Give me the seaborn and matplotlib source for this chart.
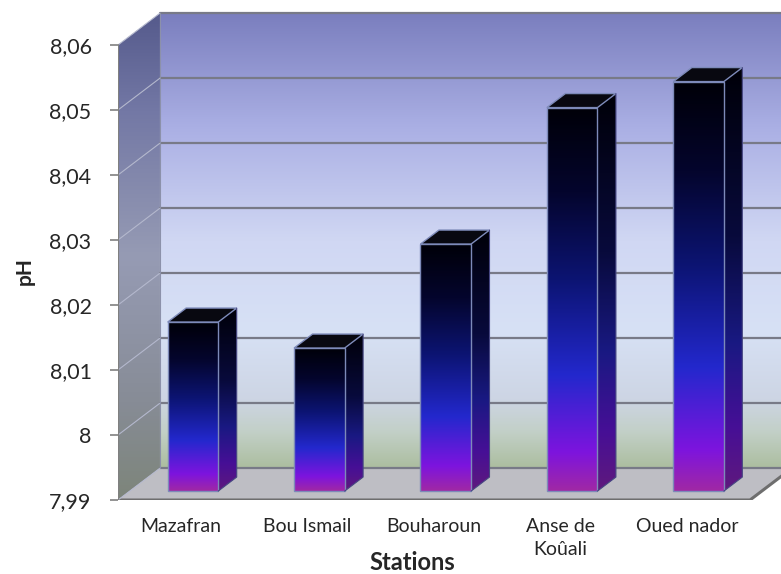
import numpy as np
import pandas as pd
import matplotlib
matplotlib.use("Agg")
import matplotlib.pyplot as plt
from matplotlib.patches import Polygon
from matplotlib.colors import LinearSegmentedColormap
import seaborn as sns

# Data
stations = ["Mazafran", "Bou Ismail", "Bouharoun", "Anse de\nKoûali", "Oued nador"]
ph_values = [8.016, 8.012, 8.028, 8.049, 8.053]
y_ticks = [7.99, 8.00, 8.01, 8.02, 8.03, 8.04, 8.05, 8.06]
y_tick_labels = ["7,99", "8", "8,01", "8,02", "8,03", "8,04", "8,05", "8,06"]

sns.set_theme(style="white")
plt.rcParams["font.family"] = ["Lato", "DejaVu Sans"]

W, H = 781, 574
fig = plt.figure(figsize=(W / 100, H / 100), dpi=100)
ax = fig.add_axes([118 / W, 74 / H, (W - 118) / W, 495 / H])

Y0, Y1 = y_ticks[0], y_ticks[-1]
X0, X1 = -0.5, len(stations) - 0.5
DX, DY = 0.332, 0.0049          # depth of the box (oblique offset) in data units
BAR_D0, BAR_D1 = 0.28, 0.72     # bar front / back as a fraction of depth
XLIM = (X0, X1 + 0.245)
YLIM = (Y0, Y0 + 495 / 6500)


def rgb(*c):
    return tuple(v / 255 for v in c)


def grad_fill(verts, stops, zorder):
    poly = Polygon(verts, closed=True, facecolor="none", edgecolor="none", zorder=zorder)
    ax.add_patch(poly)
    cmap = LinearSegmentedColormap.from_list("g", stops)
    xs = [v[0] for v in verts]
    ys = [v[1] for v in verts]
    grad = np.linspace(0, 1, 256).reshape(-1, 1)
    im = ax.imshow(grad, extent=[min(xs), max(xs), min(ys), max(ys)], origin="lower",
                   cmap=cmap, aspect="auto", zorder=zorder, interpolation="bicubic")
    im.set_clip_path(poly)
    return poly


# Back wall
back_stops = [(0.0, rgb(172, 190, 160)), (0.08, rgb(195, 208, 200)), (0.15, rgb(205, 213, 228)),
              (0.3, rgb(215, 225, 245)), (0.5, rgb(208, 215, 243)), (0.75, rgb(170, 175, 228)),
              (1.0, rgb(122, 126, 190))]
grad_fill([(X0 + DX, Y0 + DY), (X1 + DX, Y0 + DY), (X1 + DX, Y1 + DY), (X0 + DX, Y1 + DY)],
          back_stops, 0.5)

# Left side wall
side_stops = [(0.0, rgb(125, 133, 122)), (0.2, rgb(135, 140, 150)), (0.5, rgb(150, 155, 180)),
              (0.8, rgb(115, 120, 165)), (1.0, rgb(85, 90, 140))]
grad_fill([(X0, Y0), (X0 + DX, Y0 + DY), (X0 + DX, Y1 + DY), (X0, Y1)], side_stops, 0.6)

# Floor
floor = Polygon([(X0, Y0), (X1, Y0), (X1 + DX, Y0 + DY), (X0 + DX, Y0 + DY)], closed=True,
                facecolor=rgb(190, 190, 196), edgecolor="none", zorder=0.7)
ax.add_patch(floor)
ax.plot([X0, X1, X1 + DX], [Y0, Y0, Y0 + DY], color=rgb(110, 110, 110), lw=2.2, zorder=0.75,
        solid_capstyle="butt", solid_joinstyle="miter")

# Gridlines on back wall and side wall
for t in y_ticks:
    ax.plot([X0 + DX, X1 + DX], [t + DY, t + DY], color=rgb(120, 122, 135), lw=1.6, zorder=0.8)
    ax.plot([X0, X0 + DX], [t, t + DY], color=rgb(180, 184, 205), lw=0.8, zorder=0.8)
ax.plot([X0 + DX, X0 + DX], [Y0 + DY, Y1 + DY], color=rgb(140, 145, 170), lw=0.8, zorder=0.8)

# Front axis line
ax.plot([X0, X0], [Y0, Y1], color=rgb(128, 128, 128), lw=1.5, zorder=0.9)

# Bars: front faces drawn by seaborn, then moved to their depth in the box
df = pd.DataFrame({"station": stations, "ph": ph_values})
sns.barplot(data=df, x="station", y="ph", width=0.4, ax=ax, color="white",
            edgecolor="none", linewidth=0)

front_stops = [(0.0, rgb(160, 40, 165)), (0.1, rgb(125, 20, 222)), (0.3, rgb(35, 40, 205)),
               (0.55, rgb(12, 20, 115)), (0.78, rgb(4, 5, 45)), (1.0, rgb(0, 0, 8))]
side_bar_stops = [(0.0, rgb(95, 25, 125)), (0.15, rgb(70, 15, 150)), (0.35, rgb(25, 25, 130)),
                  (0.6, rgb(8, 10, 60)), (1.0, rgb(0, 0, 8))]
edge_c = rgb(125, 138, 185)

base = Y0 + BAR_D0 * DY
ddx, ddy = (BAR_D1 - BAR_D0) * DX, (BAR_D1 - BAR_D0) * DY
for i, p in enumerate(ax.patches[-len(stations):]):
    top = p.get_height() + BAR_D0 * DY
    x0 = p.get_x() + BAR_D0 * DX
    w = p.get_width()
    p.set_x(x0)
    p.set_y(base)
    p.set_height(top - base)
    p.set_facecolor("none")
    p.set_edgecolor("none")
    z = 5 + i
    x1 = x0 + w
    grad_fill([(x0, base), (x1, base), (x1, top), (x0, top)], front_stops, z)
    grad_fill([(x1, base), (x1 + ddx, base + ddy), (x1 + ddx, top + ddy), (x1, top)],
              side_bar_stops, z)
    ax.add_patch(Polygon([(x0, top), (x1, top), (x1 + ddx, top + ddy), (x0 + ddx, top + ddy)],
                         closed=True, facecolor=rgb(8, 8, 16), edgecolor=edge_c, lw=1.0,
                         zorder=z + 0.1))
    ax.add_patch(Polygon([(x0, base), (x1, base), (x1, top), (x0, top)], closed=True,
                         facecolor="none", edgecolor=edge_c, lw=1.0, zorder=z + 0.1))
    ax.plot([x1, x1 + ddx, x1 + ddx], [base, base + ddy, top + ddy], color=rgb(70, 70, 130),
            lw=0.8, zorder=z + 0.1)

# Axes formatting
for s in ax.spines.values():
    s.set_visible(False)
ax.grid(False)
ax.set_facecolor("none")
ax.set_yticks(y_ticks)
ax.set_yticklabels(y_tick_labels, fontsize=15.5)
ax.tick_params(axis="y", length=6, width=1.2, color=rgb(128, 128, 128), pad=13, left=True)
ax.tick_params(axis="x", length=0, pad=13, labelsize=14)
for lbl in ax.get_xticklabels():
    lbl.set_linespacing(1.45)
ax.set_xlabel("")
ax.set_ylabel("")
ax.set_xlim(*XLIM)
ax.set_ylim(*YLIM)

fig.text(25 / W, 1 - 271 / H, "pH", rotation=90, ha="center", va="center",
         fontsize=15, fontweight="bold")
fig.text(412 / W, 1 - 563 / H, "Stations", ha="center", va="center",
         fontsize=17, fontweight="bold")

fig.savefig("out.png", dpi=100, facecolor="white")
